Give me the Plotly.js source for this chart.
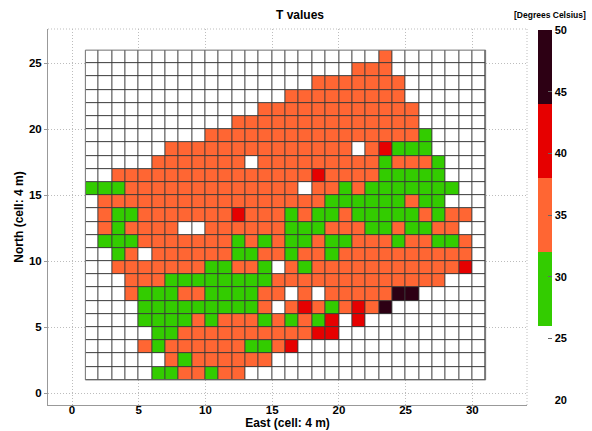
<!DOCTYPE html>
<html><head><meta charset="utf-8">
<script src="https://cdn.plot.ly/plotly-3.0.1.min.js"></script>
<style>html,body{margin:0;padding:0;background:#fff}#chart{width:592px;height:431px}</style>
</head><body><div id="chart"></div>
<script>
// Cell centres (East, North) in cell units
const eastCenters = [1.5,2.5,3.5,4.5,5.5,6.5,7.5,8.5,9.5,10.5,11.5,12.5,13.5,14.5,15.5,16.5,17.5,18.5,19.5,20.5,21.5,22.5,23.5,24.5,25.5,26.5,27.5,28.5,29.5,30.5];
const northCenters = [1.5,2.5,3.5,4.5,5.5,6.5,7.5,8.5,9.5,10.5,11.5,12.5,13.5,14.5,15.5,16.5,17.5,18.5,19.5,20.5,21.5,22.5,23.5,24.5,25.5];
const xTickVals = [0,5,10,15,20,25,30];
const yTickVals = [0,5,10,15,20,25];
const cbTickVals = [20,25,30,35,40,45,50];
// T values (deg C), one row per north cell, from north=1.5 (bottom) to 25.5 (top)
const tValues = [
 [23,23,23,23,23,29,29,35,35,29, 35,35,23,23,23,23,23,23,23,23, 23,23,23,23,23,23,23,23,23,23],
 [23,23,23,23,23,23,35,29,35,35, 35,35,35,35,23,23,23,23,23,23, 23,23,23,23,23,23,23,23,23,23],
 [23,23,23,23,35,29,35,35,35,35, 35,35,29,29,35,41,23,23,23,23, 23,23,23,23,23,23,23,23,23,23],
 [23,23,23,23,23,29,29,35,35,35, 35,35,35,35,35,35,35,41,41,23, 23,23,23,23,23,23,23,23,23,23],
 [23,23,23,23,29,29,29,29,35,29, 35,35,35,29,35,29,35,29,41,23, 41,23,23,23,23,23,23,23,23,23],
 [23,23,23,23,29,29,29,29,29,29, 29,29,29,35,23,35,41,35,29,35, 41,35,47,23,23,23,23,23,23,23],
 [23,23,23,35,29,29,29,35,35,29, 29,29,29,35,35,23,35,23,35,35, 35,35,35,47,47,23,23,23,23,23],
 [23,23,23,35,35,35,29,29,29,29, 29,29,29,29,35,35,35,35,35,35, 35,35,35,35,35,35,35,23,23,23],
 [23,23,35,35,35,35,35,35,35,29, 29,35,35,29,23,35,29,35,35,35, 35,35,35,35,35,35,35,35,41,23],
 [23,23,29,35,23,35,35,35,35,35, 35,29,29,35,35,29,35,35,29,35, 35,35,35,35,35,35,35,35,35,23],
 [23,29,29,29,35,35,35,35,35,35, 35,29,35,29,35,29,29,35,29,29, 35,35,35,29,35,35,29,29,35,23],
 [23,35,29,35,35,35,35,23,23,35, 35,35,35,35,35,29,29,29,35,35, 35,29,29,35,29,29,35,35,23,23],
 [23,35,29,29,35,35,35,35,35,35, 35,41,35,35,35,29,35,29,29,35, 29,29,29,29,29,35,29,35,35,23],
 [23,35,35,35,35,35,35,35,35,35, 35,35,35,35,35,35,35,35,29,29, 29,29,29,29,35,29,29,23,23,23],
 [29,29,29,35,35,35,35,35,35,35, 35,35,35,35,35,35,23,35,35,29, 35,29,29,29,29,29,29,29,23,23],
 [23,23,35,35,35,35,35,35,35,35, 35,35,35,35,35,35,35,41,35,35, 35,35,29,29,29,29,29,23,23,23],
 [23,23,23,23,23,35,35,35,35,35, 35,35,23,35,35,35,35,35,35,35, 35,35,29,35,35,35,29,23,23,23],
 [23,23,23,23,23,23,35,35,35,35, 35,35,35,35,35,35,35,35,35,35, 23,35,41,29,29,29,23,23,23,23],
 [23,23,23,23,23,23,23,23,23,35, 35,35,35,35,35,35,35,35,35,35, 35,35,35,35,35,29,23,23,23,23],
 [23,23,23,23,23,23,23,23,23,23, 23,35,35,35,35,35,35,35,35,35, 35,35,35,35,35,23,23,23,23,23],
 [23,23,23,23,23,23,23,23,23,23, 23,23,23,35,35,35,35,35,35,35, 35,35,35,35,35,23,23,23,23,23],
 [23,23,23,23,23,23,23,23,23,23, 23,23,23,23,23,35,35,35,35,35, 35,35,35,35,23,23,23,23,23,23],
 [23,23,23,23,23,23,23,23,23,23, 23,23,23,23,23,23,23,35,35,35, 35,35,35,35,23,23,23,23,23,23],
 [23,23,23,23,23,23,23,23,23,23, 23,23,23,23,23,23,23,23,23,23, 35,35,35,23,23,23,23,23,23,23],
 [23,23,23,23,23,23,23,23,23,23, 23,23,23,23,23,23,23,23,23,23, 23,23,35,23,23,23,23,23,23,23]
];

const FONT = 'Liberation Sans, Arial, Helvetica, sans-serif';
const halfX = (eastCenters[1]-eastCenters[0])/2;
const halfY = (northCenters[1]-northCenters[0])/2;
const gx0 = eastCenters[0]-halfX, gx1 = eastCenters[eastCenters.length-1]+halfX;
const gy0 = northCenters[0]-halfY, gy1 = northCenters[northCenters.length-1]+halfY;

const trace = {
  type: 'heatmap',
  x: eastCenters, y: northCenters, z: tValues,
  zmin: 20, zmax: 50,
  xgap: 1, ygap: 1,
  colorscale: [[0,'#ffffff'],[0.2,'#ffffff'],[0.2,'#33cc00'],[0.4,'#33cc00'],
               [0.4,'#ff6633'],[0.6,'#ff6633'],[0.6,'#e60000'],[0.8,'#e60000'],
               [0.8,'#2d0014'],[1,'#2d0014']],
  hoverinfo: 'skip',
  colorbar: {
    thickness: 14, thicknessmode: 'pixels',
    len: 0.984, lenmode: 'fraction',
    x: 1.023, xanchor: 'left', y: 0.505, yanchor: 'middle',
    xpad: 0, ypad: 0, outlinewidth: 0,
    tickvals: cbTickVals, ticks: 'inside', ticklen: 4, tickcolor: '#666',
    tickfont: {family: FONT, size: 11, weight: 'bold', color: '#000'}
  }
};

const tickFont = {family: FONT, size: 11.5, weight: 'bold', color: '#000'};
const titleFont = {family: FONT, size: 12, weight: 'bold', color: '#000'};
const layout = {
  width: 592, height: 431,
  margin: {l: 48, r: 65, t: 29, b: 26},
  paper_bgcolor: '#fff', plot_bgcolor: '#fff',
  title: {text: 'T values', font: {family: FONT, size: 12, weight: 'bold', color: '#000'},
          x: 300/592, xanchor: 'center', xref: 'container', y: 1-15/431, yanchor: 'middle', yref: 'container'},
  xaxis: {
    range: [-1.8, 34.1], tickvals: xTickVals, ticks: '', ticklen: 0, showline: true, linecolor: '#999', linewidth: 1,
    showgrid: true, gridcolor: '#bdbdbd', griddash: '1px,2px', gridwidth: 1, zeroline: false,
    tickfont: tickFont, automargin: false, ticklabelstandoff: -6,
    title: {text: 'East (cell: 4 m)', font: titleFont, standoff: 2}
  },
  yaxis: {
    range: [-0.9, 27.6], tickvals: yTickVals, ticks: 'outside', ticklen: 3, tickcolor: '#999',
    showline: true, linecolor: '#999', linewidth: 1,
    showgrid: true, gridcolor: '#bdbdbd', griddash: '1px,2px', gridwidth: 1, zeroline: false,
    tickfont: tickFont, automargin: false,
    title: {text: 'North (cell: 4 m)', font: titleFont, standoff: 2}
  },
  shapes: [
    {type: 'rect', xref: 'x', yref: 'y', x0: gx0, x1: gx1, y0: gy0, y1: gy1,
     fillcolor: '#3a3a3a', line: {width: 0}, layer: 'between'},
    {type: 'rect', xref: 'x', yref: 'y', x0: gx0, x1: gx1, y0: gy0, y1: gy1,
     fillcolor: 'rgba(0,0,0,0)', line: {width: 1, color: '#777'}, layer: 'above'},
    {type: 'line', xref: 'paper', yref: 'paper', x0: 0, x1: 1, y0: 1, y1: 1,
     line: {width: 1, color: '#bdbdbd', dash: '1px,2px'}},
    {type: 'line', xref: 'paper', yref: 'paper', x0: 1, x1: 1, y0: 0, y1: 1,
     line: {width: 1, color: '#bdbdbd', dash: '1px,2px'}}
  ],
  annotations: [
    {text: '[Degrees Celsius]', xref: 'paper', yref: 'paper', x: (550-48)/479, y: (405-15)/376,
     xanchor: 'center', yanchor: 'middle', showarrow: false,
     font: {family: FONT, size: 8.5, weight: 'bold', color: '#000'}}
  ]
};

Plotly.newPlot('chart', [trace], layout, {staticPlot: true, displayModeBar: false});
</script>
</body></html>
